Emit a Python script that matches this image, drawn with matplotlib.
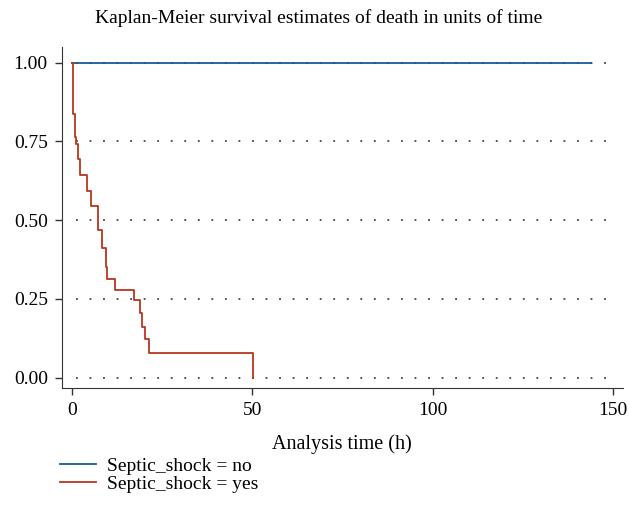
import numpy as np
import matplotlib.pyplot as plt

# Kaplan-Meier step points
t_no = [0, 144]
s_no = [1.0, 1.0]

t_yes = [0, 0.4, 0.9, 1.3, 1.7, 2.3, 4.3, 5.2, 7.3, 8.5, 9.4, 9.7,
         12.1, 17.2, 18.9, 19.5, 20.3, 21.4, 50.1]
s_yes = [1.0, 0.837, 0.765, 0.741, 0.694, 0.643, 0.593, 0.545, 0.468, 0.413,
         0.351, 0.314, 0.279, 0.245, 0.206, 0.160, 0.123, 0.079, 0.0]

yticks = [0.0, 0.25, 0.5, 0.75, 1.0]
xticks = [0, 50, 100, 150]

plt.rcParams['font.family'] = ['Liberation Serif', 'DejaVu Serif']
plt.rcParams['font.size'] = 14

fig = plt.figure(figsize=(6.29, 5.17), dpi=100)
ax = fig.add_axes([0.098, 0.249, 0.892, 0.66])

for y in yticks:
    ax.hlines(y, 1.2, 150, colors='#444444', linestyles=(0, (1, 6.5)), lw=1.3, zorder=1)

l1, = ax.step(t_no, s_no, where='post', color='#1b5a8e', lw=1.3, zorder=3)
l2, = ax.step(t_yes, s_yes, where='post', color='#b8361c', lw=1.3, zorder=3)

ax.set_xlim(-2.8, 152.7)
ax.set_ylim(-0.034, 1.05)
ax.set_xticks(xticks)
ax.set_yticks(yticks)
ax.set_yticklabels(['%.2f' % v for v in yticks])
for side in ['top', 'right']:
    ax.spines[side].set_visible(False)
ax.spines['left'].set_color('#333333')
ax.spines['bottom'].set_color('#333333')
ax.tick_params(direction='out', length=5, width=1, color='#333333', labelsize=14, pad=5)
ax.set_xlabel('Analysis time (h)', fontsize=14.5, labelpad=11)

fig.text(0.507, 0.965, 'Kaplan-Meier survival estimates of death in units of time',
         ha='center', va='center', fontsize=14)

fig.legend([l1, l2], ['Septic_shock = no', 'Septic_shock = yes'],
           loc='upper left', bbox_to_anchor=(0.083, 0.13), frameon=False,
           fontsize=14, handlelength=1.85, labelspacing=0.0, borderaxespad=0,
           handletextpad=0.56)

fig.savefig('out.png', dpi=100)
